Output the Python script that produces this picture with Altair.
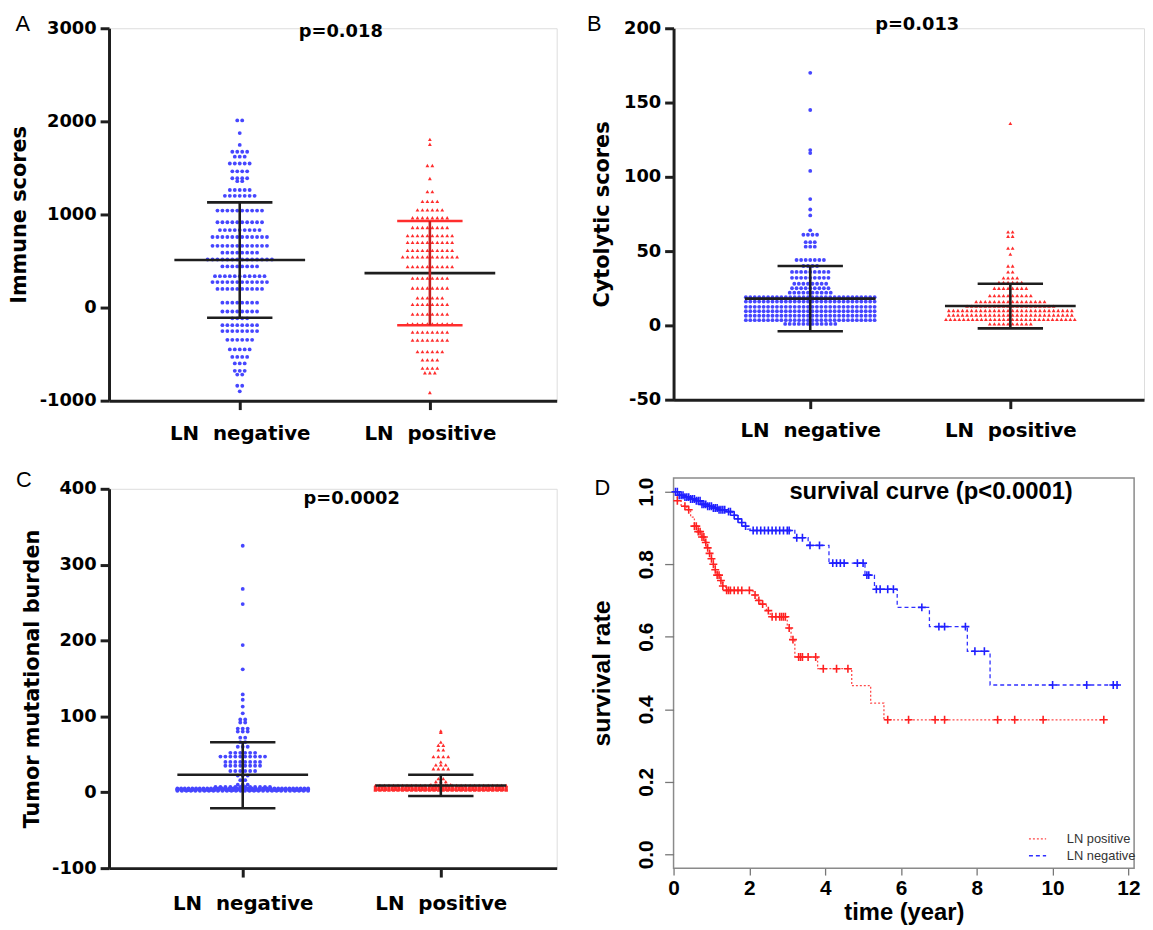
import altair as alt
import pandas as pd

FONT = "DejaVu Sans"
LFONT = "Liberation Sans"
BLUE = "#4646ff"
RED = "#ff2d2d"
DARK = "#1e1e1e"

X_LABEL_NEG = "LN\u00a0\u00a0negative"
X_LABEL_POS = "LN\u00a0\u00a0positive"

# ---------------- Panel A : immune scores (row value, dots in row) ----------------
A_NEG_VALUES = [2010, 1874, 1747, 1674, 1621, 1547, 1463, 1389, 1358, 1263, 1200,
                1042, 916, 832, 758, 663, 590, 516, 442, 337, 274, 200,
                53, -42, -116, -189, -253, -347, -450, -530, -600, -680, -720, -840, -900]
A_NEG_COUNTS = [2, 1, 1, 4, 3, 5, 4, 4, 2, 5, 7,
                10, 10, 9, 12, 12, 8, 14, 8, 11, 12, 10,
                8, 8, 4, 8, 8, 6, 5, 4, 3, 3, 2, 2, 1]
A_POS_VALUES = [1807, 1754, 1526, 1386, 1245, 1140, 1050, 965, 860, 772, 700, 614, 544,
                439, 316, 210, 105, 35, -70, -175, -263, -350, -473, -561, -650, -700, -912]
A_POS_COUNTS = [1, 1, 2, 1, 2, 4, 6, 8, 8, 10, 10, 10, 12,
                10, 8, 8, 6, 8, 8, 10, 8, 8, 6, 4, 4, 3, 1]
A_MEAN = [510, 370]
A_SD_HIGH = [1130, 930]
A_SD_LOW = [-110, -190]

# ---------------- Panel B : cytolytic scores ----------------
B_NEG_VALUES = [170, 145, 118, 116, 104, 85, 78, 74, 64, 61, 56, 53, 44, 40, 36, 32, 28, 25, 22,
                19, 16, 12.5, 9.5, 6.5, 3.5, 1]
B_NEG_COUNTS = [1, 1, 1, 1, 1, 1, 1, 1, 1, 4, 3, 3, 7, 4, 9, 9, 8, 9, 10,
                30, 30, 30, 30, 30, 30, 12]
B_POS_VALUES = [136, 63, 60, 52, 48, 40, 36, 32, 29, 25, 20, 16, 13, 10, 7, 4, 1]
B_POS_COUNTS = [1, 2, 2, 2, 1, 2, 2, 4, 6, 8, 10, 16, 20, 28, 28, 30, 10]
B_MEAN = [18, 13]
B_SD_HIGH = [40, 28]
B_SD_LOW = [-4, -2]

# ---------------- Panel C : tumor mutational burden ----------------
C_NEG_VALUES = [325, 268, 248, 194, 162, 129, 122, 113, 104, 96, 92, 84, 80, 72, 66, 60,
                52, 47, 40, 35, 28, 22, 16, 10, 7, 5, 4, 3, 2]
C_NEG_COUNTS = [1, 1, 1, 1, 1, 1, 1, 1, 1, 2, 2, 3, 3, 2, 2, 3,
                6, 10, 8, 8, 6, 3, 2, 3, 12, 36, 36, 36, 30]
C_POS_VALUES = [81, 79, 66, 62, 56, 47, 40, 36, 31, 18, 14, 10, 9, 8, 7, 6, 5, 4, 3]
C_POS_COUNTS = [1, 1, 1, 2, 2, 4, 1, 3, 4, 2, 3, 5, 30, 30, 40, 40, 40, 40, 30]
C_MEAN = [23, 9]
C_SD_HIGH = [66, 23]
C_SD_LOW = [-21, -5]

# ---------------- Panel D : Kaplan-Meier ----------------
POS_STEP_T = [0, 0.05, 0.1, 0.2, 0.35, 0.45, 0.55, 0.65, 0.75, 0.82, 0.88, 0.95, 1.0, 1.05, 1.1,
              1.15, 1.22, 1.3, 1.38, 2.1, 2.2, 2.3, 2.45, 2.55, 3.0, 3.1, 3.2, 3.8, 4.7, 5.2,
              5.55, 11.35]
POS_STEP_S = [1.0, 0.99, 0.975, 0.96, 0.95, 0.93, 0.905, 0.89, 0.875, 0.86, 0.845, 0.83, 0.815,
              0.80, 0.785, 0.77, 0.755, 0.74, 0.728, 0.715, 0.70, 0.69, 0.672, 0.655, 0.624,
              0.592, 0.544, 0.512, 0.465, 0.417, 0.371, 0.371]
NEG_STEP_T = [0, 0.15, 0.3, 0.45, 0.6, 0.75, 0.9, 1.05, 1.2, 1.4, 1.55, 1.65, 1.75, 1.85, 1.95,
              2.05, 3.2, 3.55, 4.1, 5.05, 5.3, 5.9, 6.75, 7.75, 8.35, 11.75]
NEG_STEP_S = [1.0, 0.99, 0.985, 0.98, 0.975, 0.965, 0.96, 0.955, 0.95, 0.945, 0.935, 0.925,
              0.915, 0.905, 0.897, 0.893, 0.873, 0.852, 0.803, 0.77, 0.731, 0.681, 0.628,
              0.56, 0.467, 0.467]
POS_CENSOR_T = [0.1, 0.3, 0.4, 0.55, 0.6, 0.65, 0.7, 0.75, 0.8, 0.85, 0.9, 0.95, 1.0, 1.05,
                1.1, 1.15, 1.2, 1.25, 1.3, 1.4, 1.45, 1.5, 1.6, 1.7, 1.8, 2.0, 2.15, 2.25, 2.35,
                2.5, 2.6, 2.7, 2.8, 2.85, 2.9, 2.95, 3.05, 3.15, 3.3, 3.35, 3.4, 3.55, 3.75,
                3.95, 4.3, 4.6, 5.65, 6.2, 6.9, 7.15, 8.55, 9.0, 9.75, 11.35]
NEG_CENSOR_T = [0.05, 0.1, 0.15, 0.2, 0.25, 0.3, 0.35, 0.4, 0.45, 0.5, 0.55, 0.6, 0.65, 0.7,
                0.75, 0.8, 0.85, 0.9, 0.95, 1.0, 1.05, 1.1, 1.15, 1.2, 1.25, 1.3, 1.35, 1.45,
                1.5, 1.6, 1.7, 1.8, 1.9, 2.1, 2.2, 2.3, 2.4, 2.5, 2.6, 2.7, 2.8, 2.9, 3.0, 3.05,
                3.25, 3.4, 3.6, 3.85, 4.2, 4.3, 4.4, 4.5, 4.85, 5.0, 5.1, 5.15, 5.35, 5.45,
                5.65, 5.8, 6.55, 7.0, 7.15, 7.7, 7.95, 8.2, 10.0, 10.9, 11.6, 11.7]
GROUPS = ["LN positive", "LN negative"]


def expand(values, counts, cat, ppu, step_px, max_px):
    rows = []
    for v, n in zip(values, counts):
        step = step_px if n < 2 else min(step_px, max_px / (n - 1))
        for i in range(n):
            rows.append({"pos": cat + (i - (n - 1) / 2) * step / ppu, "value": v})
    return rows


def dot_panel(neg, pos, means, hi, lo, ydom, yvals, ytitle, ptext, pxy, letter, lxy,
              xdom, width, height, step_px, max_px, ext, tpad, lpad, sd_cols, vcols):
    ppu = width / (xdom[1] - xdom[0])
    neg_df = pd.DataFrame(expand(neg[0], neg[1], 0, ppu, step_px, max_px))
    pos_df = pd.DataFrame(expand(pos[0], pos[1], 1, ppu, step_px, max_px))
    mean_half = 66 / ppu
    cap_half = 33 / ppu
    bars = []
    for c in range(2):
        bars.append({"x": c - mean_half, "x2": c + mean_half, "y": means[c], "y2": means[c], "col": DARK})
        bars.append({"x": c - cap_half, "x2": c + cap_half, "y": hi[c], "y2": hi[c], "col": sd_cols[c]})
        bars.append({"x": c - cap_half, "x2": c + cap_half, "y": lo[c], "y2": lo[c], "col": sd_cols[c]})
        bars.append({"x": c, "x2": c, "y": lo[c], "y2": hi[c], "col": vcols[c]})
    bars_df = pd.DataFrame(bars)

    xscale = alt.Scale(domain=xdom, nice=False, zero=False)
    yscale = alt.Scale(domain=ydom, nice=False, zero=False)
    xaxis = alt.Axis(values=[0, 1],
                     labelExpr=f"datum.value == 0 ? '{X_LABEL_NEG}' : '{X_LABEL_POS}'",
                     grid=False, domainColor=DARK, domainWidth=3, tickColor=DARK,
                     tickWidth=3, tickSize=9, labelFont=FONT, labelFontSize=20,
                     labelFontWeight="bold", labelColor="black", labelPadding=lpad,
                     title=None, labelFlush=False)
    yaxis = alt.Axis(values=yvals, labelExpr="toString(datum.value)", grid=False,
                     domainColor=DARK, domainWidth=3, tickColor=DARK, tickWidth=3,
                     tickSize=9, labelFont=FONT, labelFontSize=18, labelFontWeight="bold",
                     labelColor="black", labelPadding=4, title=ytitle, titleFont=FONT,
                     titleFontSize=21, titleFontWeight="bold", titleColor="black",
                     titlePadding=tpad, minExtent=ext, maxExtent=ext, labelFlush=False)

    base_x = alt.X("pos:Q", scale=xscale, axis=xaxis)
    base_y = alt.Y("value:Q", scale=yscale, axis=yaxis)
    neg_pts = alt.Chart(neg_df).mark_point(filled=True, shape="circle", size=15,
                                           color=BLUE, opacity=1).encode(x=base_x, y=base_y)
    pos_pts = alt.Chart(pos_df).mark_point(filled=True, shape="triangle-up", size=15,
                                           color=RED, opacity=1).encode(
        x=alt.X("pos:Q", scale=xscale), y=alt.Y("value:Q", scale=yscale))
    rules = alt.Chart(bars_df).mark_rule(strokeWidth=2.6).encode(
        x=alt.X("x:Q", scale=xscale), x2="x2:Q",
        y=alt.Y("y:Q", scale=yscale), y2="y2:Q",
        color=alt.Color("col:N", scale=None))
    ptxt = alt.Chart(pd.DataFrame({"t": [ptext]})).mark_text(
        font=FONT, fontSize=18, fontWeight="bold", color="black", baseline="middle",
        align="center").encode(text="t:N", x=alt.value(pxy[0]), y=alt.value(pxy[1]))
    ltxt = alt.Chart(pd.DataFrame({"t": [letter]})).mark_text(
        font=LFONT, fontSize=22, color="black", baseline="middle", align="center").encode(
        text="t:N", x=alt.value(lxy[0]), y=alt.value(lxy[1]))
    return alt.layer(neg_pts, pos_pts, rules, ptxt, ltxt).properties(width=width, height=height)


panel_a = dot_panel((A_NEG_VALUES, A_NEG_COUNTS), (A_POS_VALUES, A_POS_COUNTS),
                    A_MEAN, A_SD_HIGH, A_SD_LOW, [-1000, 3000], [-1000, 0, 1000, 2000, 3000],
                    "Immune scores", "p=0.018", (234, 4), "A", (-87, -4),
                    [-0.6875, 1.667], 452, 376, 5.0, 70, 74, 6, 14,
                    [DARK, RED], [DARK, "#c42020"])
panel_b = dot_panel((B_NEG_VALUES, B_NEG_COUNTS), (B_POS_VALUES, B_POS_COUNTS),
                    B_MEAN, B_SD_HIGH, B_SD_LOW, [-50, 200], [-50, 0, 50, 100, 150, 200],
                    "Cytolytic scores", "p=0.013", (246, -3), "B", (-80, -4),
                    [-0.683, 1.668], 475, 375, 4.6, 130, 53, 9, 12,
                    [DARK, DARK], [DARK, DARK])
panel_c = dot_panel((C_NEG_VALUES, C_NEG_COUNTS), (C_POS_VALUES, C_POS_COUNTS),
                    C_MEAN, C_SD_HIGH, C_SD_LOW, [-100, 400], [-100, 0, 100, 200, 300, 400],
                    "Tumor mutational burden", "p=0.0002", (245, 10), "C", (-86, -9),
                    [-0.675, 1.585], 452, 383, 5.0, 132, 61, 6, 17,
                    [DARK, DARK], [DARK, DARK])


# ---------------- Panel D ----------------
def surv_at(times, surv, t):
    s = surv[0]
    for ti, si in zip(times, surv):
        if ti <= t:
            s = si
    return s


km_rows = []
for t, s in zip(POS_STEP_T, POS_STEP_S):
    km_rows.append({"t": t, "s": s, "group": GROUPS[0]})
for t, s in zip(NEG_STEP_T, NEG_STEP_S):
    km_rows.append({"t": t, "s": s, "group": GROUPS[1]})
km_df = pd.DataFrame(km_rows)
pos_cens = pd.DataFrame({"t": POS_CENSOR_T,
                         "s": [surv_at(POS_STEP_T, POS_STEP_S, t) for t in POS_CENSOR_T]})
neg_cens = pd.DataFrame({"t": NEG_CENSOR_T,
                         "s": [surv_at(NEG_STEP_T, NEG_STEP_S, t) for t in NEG_CENSOR_T]})

D_W, D_H = 465, 394
dx = alt.Scale(domain=[0, 12.15], nice=False, zero=False)
dy = alt.Scale(domain=[-0.038, 1.038], nice=False, zero=False)
d_xaxis = alt.Axis(values=[0, 2, 4, 6, 8, 10, 12], grid=False, domain=False,
                   tickColor="#777", tickSize=7, tickWidth=1.3, labelFont=LFONT,
                   labelFontSize=21, labelFontWeight="bold", labelColor="black",
                   labelPadding=3, title="time (year)", titleFont=LFONT, titleFontSize=24,
                   titleFontWeight="bold", titleColor="black", titlePadding=2,
                   labelFlush=False)
d_yaxis = alt.Axis(values=[0, 0.2, 0.4, 0.6, 0.8, 1.0], format=".1f", grid=False,
                   domain=False, tickColor="#777", tickSize=9, tickWidth=1.3,
                   labelFont=LFONT, labelFontSize=21, labelFontWeight="bold",
                   labelColor="black", labelPadding=8, labelAngle=270, labelAlign="center",
                   labelBaseline="bottom", title="survival rate", titleFont=LFONT,
                   titleFontSize=25, titleFontWeight="bold", titleColor="black",
                   titlePadding=22, minExtent=38, maxExtent=38, labelFlush=False)
legend_cfg = dict(orient="none", legendX=358, legendY=355, title=None, symbolType="stroke",
                  symbolSize=300, symbolStrokeWidth=1.3, labelFont=LFONT, labelFontSize=13,
                  labelColor="#333", rowPadding=0, labelOffset=20)
km_lines = alt.Chart(km_df).mark_line(interpolate="step-after", strokeWidth=1.3).encode(
    x=alt.X("t:Q", scale=dx, axis=d_xaxis),
    y=alt.Y("s:Q", scale=dy, axis=d_yaxis),
    color=alt.Color("group:N", scale=alt.Scale(domain=GROUPS, range=["#ff4a4a", "#3030ff"]),
                    legend=alt.Legend(**legend_cfg)),
    strokeDash=alt.StrokeDash("group:N", scale=alt.Scale(domain=GROUPS, range=[[2, 2], [4, 3]]),
                              legend=alt.Legend(**legend_cfg)),
)
PLUS = "M-1,0L1,0M0,-1L0,1"
pos_marks = alt.Chart(pos_cens).mark_point(shape=PLUS, size=64, strokeWidth=1.6, color="#ff2020",
                                            opacity=1).encode(
    x=alt.X("t:Q", scale=dx), y=alt.Y("s:Q", scale=dy))
neg_marks = alt.Chart(neg_cens).mark_point(shape=PLUS, size=64, strokeWidth=1.6, color="#1f1fff",
                                            opacity=1).encode(
    x=alt.X("t:Q", scale=dx), y=alt.Y("s:Q", scale=dy))
d_title = alt.Chart(pd.DataFrame({"t": ["survival curve (p<0.0001)"]})).mark_text(
    font=LFONT, fontSize=24, fontWeight="bold", color="black", baseline="middle",
    align="center").encode(text="t:N", x=alt.value(260), y=alt.value(14))
d_letter = alt.Chart(pd.DataFrame({"t": ["D"]})).mark_text(
    font=LFONT, fontSize=22, color="black", baseline="middle", align="center").encode(
    text="t:N", x=alt.value(-72), y=alt.value(10))
panel_d = alt.layer(km_lines, pos_marks, neg_marks, d_title, d_letter).properties(
    width=D_W, height=D_H, view=alt.ViewBackground(stroke="#8a8a8a", strokeWidth=1.5))

col1 = alt.vconcat(panel_a, panel_c, spacing=24).resolve_scale(
    color="independent", strokeDash="independent")
col2 = alt.vconcat(panel_b, panel_d, spacing=35).resolve_scale(
    color="independent", strokeDash="independent")
chart = alt.hconcat(col1, col2, spacing=29).resolve_scale(
    color="independent", strokeDash="independent").properties(
    padding={"left": 0, "top": 0, "right": 0, "bottom": 0}
).configure_view(stroke=None).configure(background="white")

chart.save("out.html", embed_options={"renderer": "svg", "actions": False})
